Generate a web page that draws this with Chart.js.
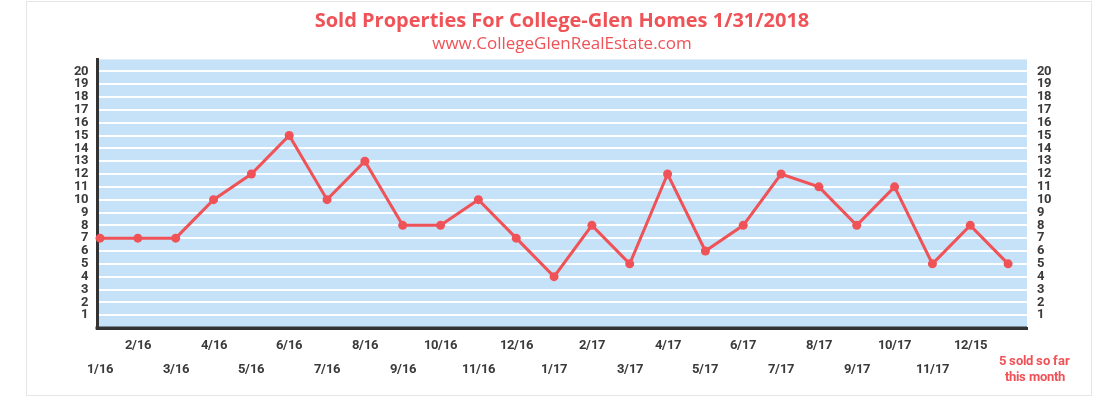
<!DOCTYPE html>
<html><head><meta charset="utf-8">
<script src="https://cdn.jsdelivr.net/npm/chart.js@4/dist/chart.umd.min.js"></script>
<style>
@font-face{font-family:'TickFont';font-weight:700;
  src:local('Liberation Sans Narrow Bold'),local('LiberationSansNarrow-Bold'),
      local('Roboto Condensed Bold'),local('RobotoCondensed-Bold'),
      local('DejaVu Sans Condensed Bold'),local('DejaVuSansCondensed-Bold'),
      local('Noto Sans Condensed Bold'),local('NotoSans-CondensedBold'),
      local('Open Sans Condensed Bold'),local('OpenSans-CondensedBold');}
html,body{margin:0;padding:0;background:#fff;}
#wrap{position:relative;width:1095px;height:396px;overflow:hidden;}
#card{position:absolute;left:26px;top:1px;width:1066px;height:395px;border:1px solid #e4e7ea;box-sizing:border-box;}
canvas{position:absolute;left:0;top:0;}
</style></head>
<body>
<div id="wrap"><div id="card"></div><canvas id="c" width="1095" height="396"></canvas></div>
<script>
const titleText = 'Sold Properties For College-Glen Homes 1/31/2018';
const subtitleText = 'www.CollegeGlenRealEstate.com';
const months = ['1/16','2/16','3/16','4/16','5/16','6/16','7/16','8/16','9/16','10/16','11/16','12/16',
  '1/17','2/17','3/17','4/17','5/17','6/17','7/17','8/17','9/17','10/17','11/17','12/15',
  ['5 sold so far','this month']];
const sold = [7,7,7,10,12,15,10,13,8,8,10,7,4,8,5,12,6,8,12,11,8,11,5,8,5];
const yTickValues = [1,2,3,4,5,6,7,8,9,10,11,12,13,14,15,16,17,18,19,20];

const RED = '#ef5257';
const TXT = '#3a3a3a';

function draw(){
  const tickFont = {family:'TickFont,"DejaVu Sans",sans-serif', size:13, weight:'bold'};
  const noteShift = 0.7; // label nudge for the current-month note
  const last = months.length - 1;
  const bgPlugin = {
    id:'plotBg',
    beforeDraw(chart){
      const {ctx, chartArea:a} = chart;
      ctx.save();
      ctx.fillStyle = '#c6e2f8';
      ctx.fillRect(a.left, a.top, a.right-a.left, a.bottom-a.top);
      ctx.restore();
    },
    afterDatasetsDraw(chart){
      const {ctx, chartArea:a} = chart;
      ctx.save();
      ctx.strokeStyle = '#333';
      ctx.lineWidth = 3;
      ctx.beginPath();
      ctx.moveTo(a.left-1.5, a.bottom);
      ctx.lineTo(a.right, a.bottom);
      ctx.stroke();
      ctx.restore();
    }
  };
  const xTicks = a => { a.ticks = months.map((m,i)=>({value:i})); };
  const x2Ticks = a => { a.ticks = months.map((m,i)=>({value: i===last ? i+noteShift : i})); };
  const yTicks = a => { a.ticks = yTickValues.map(v=>({value:v})); };

  new Chart(document.getElementById('c'), {
    type:'line',
    data:{
      datasets:[{
        data: sold.map((v,i)=>({x:i, y:v})),
        borderColor: RED, backgroundColor: RED,
        borderWidth: 3, pointRadius: 4.5, pointHoverRadius: 4.5,
        pointBackgroundColor: RED, pointBorderColor: RED, pointBorderWidth: 0,
        tension: 0, clip: false, xAxisID:'x', yAxisID:'y'
      }]
    },
    options:{
      responsive:false, animation:false, devicePixelRatio:1,
      layout:{padding:{left:0,right:0,top:0,bottom:0}},
      plugins:{
        legend:{display:false}, tooltip:{enabled:false},
        title:{display:true, text:titleText, color:RED, fullSize:false,
          font:{family:'"Open Sans",sans-serif', size:20, weight:'bold', lineHeight:1.2},
          padding:{top:9, bottom:0}},
        subtitle:{display:true, text:subtitleText, color:RED, fullSize:false,
          font:{family:'"Open Sans",sans-serif', size:17, weight:'normal', lineHeight:1.2},
          padding:{top:1, bottom:5}}
      },
      scales:{
        x:{type:'linear', position:'bottom', min:-0.08, max:24.5,
          afterBuildTicks:xTicks, afterFit:a=>{a.height=25;},
          grid:{display:false, drawTicks:false},
          border:{display:true, color:'#333', width:3},
          ticks:{autoSkip:false, maxRotation:0, minRotation:0, padding:10, color:TXT, font:tickFont,
            callback:(v,i)=> i%2===1 ? months[i] : ''}},
        x2:{type:'linear', position:'bottom', min:-0.08, max:24.5,
          afterBuildTicks:x2Ticks, afterFit:a=>{a.height=43;},
          grid:{display:false, drawTicks:false},
          border:{display:false},
          ticks:{autoSkip:false, maxRotation:0, minRotation:0, padding:9, crossAlign:'center', font:tickFont,
            color: c => c.index === last ? RED : TXT,
            callback:(v,i)=> i%2===0 ? months[i] : ''}},
        y:{type:'linear', position:'left', min:0, max:20.93,
          afterBuildTicks:yTicks, afterFit:a=>{a.width=97;},
          grid:{display:true, color:'#ffffff', lineWidth:2, drawTicks:false},
          border:{display:true, color:'#333', width:3},
          ticks:{autoSkip:false, padding:9, color:TXT, font:tickFont}},
        y2:{type:'linear', position:'right', min:0, max:20.93,
          afterBuildTicks:yTicks, afterFit:a=>{a.width=68;},
          grid:{display:false, drawTicks:false},
          border:{display:false},
          ticks:{autoSkip:false, padding:10, color:TXT, font:tickFont}}
      }
    },
    plugins:[bgPlugin]
  });
}
document.fonts.load('bold 13px TickFont').then(draw, draw);
</script>
</body></html>
